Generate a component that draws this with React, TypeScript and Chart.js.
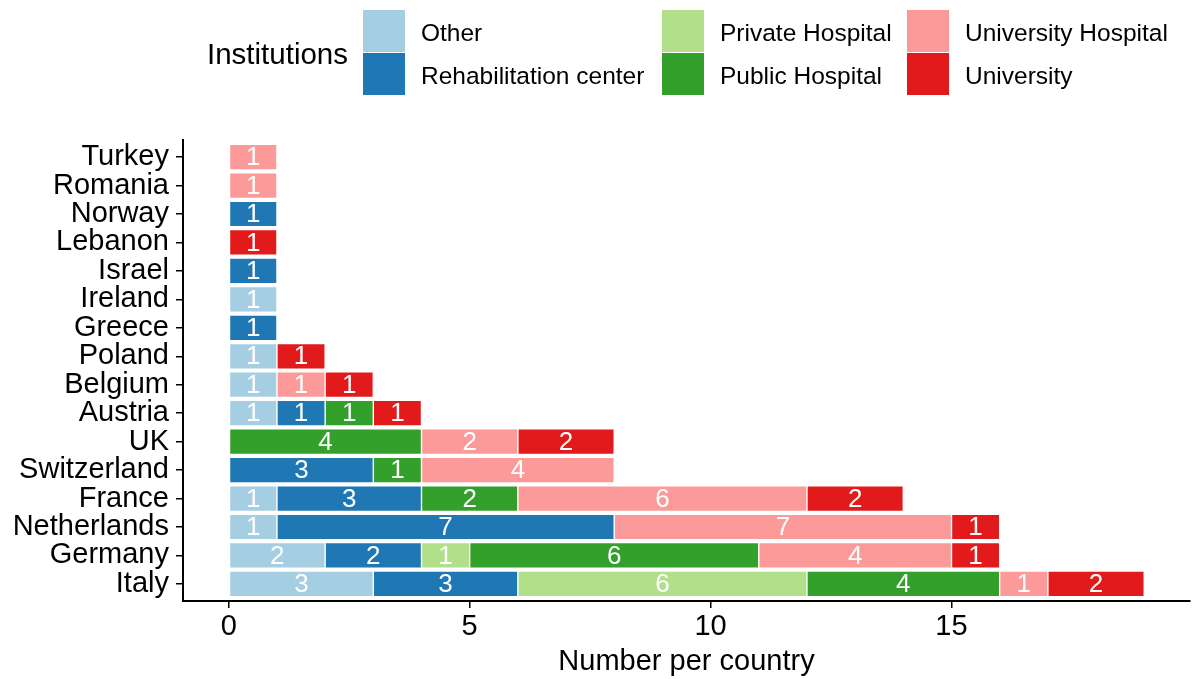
import React, { useEffect, useRef } from "react";
import { Chart, registerables } from "chart.js";

Chart.register(...registerables);

// Countries listed bottom to top (as drawn on the y axis)
const countries = [
  "Italy", "Germany", "Netherlands", "France", "Switzerland", "UK", "Austria",
  "Belgium", "Poland", "Greece", "Ireland", "Israel", "Lebanon", "Norway", "Romania", "Turkey",
];

const institutions = [
  "Other", "Rehabilitation center", "Private Hospital",
  "Public Hospital", "University Hospital", "University",
];

const otherVals = [3, 2, 1, 1, 0, 0, 1, 1, 1, 0, 1, 0, 0, 0, 0, 0];
const rehabVals = [3, 2, 7, 3, 3, 0, 1, 0, 0, 1, 0, 1, 0, 1, 0, 0];
const privateVals = [6, 1, 0, 0, 0, 0, 0, 0, 0, 0, 0, 0, 0, 0, 0, 0];
const publicVals = [4, 6, 0, 2, 1, 4, 1, 0, 0, 0, 0, 0, 0, 0, 0, 0];
const univHospVals = [1, 4, 7, 6, 4, 2, 0, 1, 0, 0, 0, 0, 0, 0, 1, 1];
const univVals = [2, 1, 1, 2, 0, 2, 1, 1, 1, 0, 0, 0, 1, 0, 0, 0];

const colors = ["#A6CEE3", "#1F78B4", "#B2DF8A", "#33A02C", "#FB9A99", "#E31A1C"];
const xTicks = [0, 5, 10, 15];

const FONT = "'Liberation Sans', Arial, Helvetica, sans-serif";
const AXIS_SIZE = 29;

const barLabels = {
  id: "barLabels",
  afterDatasetsDraw(chart: any) {
    const ctx = chart.ctx;
    ctx.save();
    ctx.font = `26px ${FONT}`;
    ctx.fillStyle = "#ffffff";
    ctx.textAlign = "center";
    ctx.textBaseline = "middle";
    chart.data.datasets.forEach((ds: any, di: number) => {
      const meta = chart.getDatasetMeta(di);
      meta.data.forEach((el: any, i: number) => {
        const v = ds.data[i].x;
        if (!v) return;
        const cx = (el.x + el.base) / 2;
        ctx.fillText(String(v), cx, el.y + 1);
      });
    });
    ctx.restore();
  },
};

export default function App() {
  const ref = useRef<HTMLCanvasElement | null>(null);

  useEffect(() => {
    if (!ref.current) return;
    const series = [otherVals, rehabVals, privateVals, publicVals, univHospVals, univVals];
    const chart = new Chart(ref.current, {
      type: "bar",
      data: {
        datasets: series.map((vals, k) => ({
          label: institutions[k],
          data: vals.map((v, i) => ({ x: v, y: i })),
          backgroundColor: colors[k],
          borderColor: "#ffffff",
          borderWidth: 0.7,
          borderSkipped: false,
          barPercentage: 0.9,
          categoryPercentage: 1,
        })),
      },
      options: {
        indexAxis: "y",
        responsive: false,
        animation: false,
        devicePixelRatio: 1,
        layout: { padding: { left: 0, right: 6, top: 140, bottom: 0 } },
        plugins: {
          legend: { display: false },
          tooltip: { enabled: false },
        },
        scales: {
          x: {
            type: "linear",
            stacked: true,
            offset: false,
            min: -0.95,
            max: 19.95,
            afterBuildTicks: (scale: any) => {
              scale.ticks = xTicks.map((v) => ({ value: v }));
            },
            afterFit: (scale: any) => {
              scale.height = 78;
            },
            grid: {
              display: true,
              offset: false,
              drawOnChartArea: false,
              drawTicks: true,
              tickLength: 7,
              color: "#000000",
              lineWidth: 1.5,
            },
            border: { display: true, color: "#000000", width: 2 },
            ticks: {
              color: "#000000",
              font: { family: FONT, size: AXIS_SIZE },
              padding: 2,
              autoSkip: false,
              maxRotation: 0,
              callback: (v: any) => String(v),
            },
            title: {
              display: true,
              text: "Number per country",
              color: "#000000",
              font: { family: FONT, size: AXIS_SIZE },
              padding: { top: 0, bottom: 0 },
            },
          },
          y: {
            type: "linear",
            stacked: true,
            offset: false,
            min: -0.6,
            max: 15.6,
            afterBuildTicks: (scale: any) => {
              scale.ticks = countries.map((_, i) => ({ value: i }));
            },
            afterFit: (scale: any) => {
              scale.width = 183;
            },
            grid: {
              display: true,
              offset: false,
              drawOnChartArea: false,
              drawTicks: true,
              tickLength: 7,
              color: "#000000",
              lineWidth: 1.5,
            },
            border: { display: true, color: "#000000", width: 2 },
            ticks: {
              color: "#000000",
              font: { family: FONT, size: AXIS_SIZE },
              padding: 7,
              autoSkip: false,
              callback: (v: any) => countries[v as number] ?? "",
            },
          },
        },
      },
      plugins: [barLabels],
    });
    return () => chart.destroy();
  }, []);

  const legendCols = [363, 662, 907];
  const boxTop = [10, 53];

  return (
    <div
      style={{
        position: "absolute",
        left: 0,
        top: 0,
        width: 1196,
        height: 679,
        background: "#ffffff",
        fontFamily: FONT,
        overflow: "hidden",
      }}
    >
      <canvas ref={ref} width={1196} height={679} style={{ position: "absolute", left: 0, top: 0 }} />
      <div
        style={{
          position: "absolute",
          left: 207,
          top: 53.5,
          transform: "translateY(-50%)",
          fontSize: 29.5,
          color: "#000",
          whiteSpace: "nowrap",
          lineHeight: 1,
        }}
      >
        Institutions
      </div>
      {institutions.map((name, k) => {
        const col = Math.floor(k / 2);
        const row = k % 2;
        const x = legendCols[col];
        const y = boxTop[row];
        return (
          <React.Fragment key={name}>
            <div
              style={{
                position: "absolute",
                left: x,
                top: y,
                width: 42,
                height: 42,
                background: colors[k],
              }}
            />
            <div
              style={{
                position: "absolute",
                left: x + 58,
                top: y + 22.5,
                transform: "translateY(-50%)",
                fontSize: 24.5,
                color: "#000",
                whiteSpace: "nowrap",
                lineHeight: 1,
              }}
            >
              {name}
            </div>
          </React.Fragment>
        );
      })}
    </div>
  );
}
